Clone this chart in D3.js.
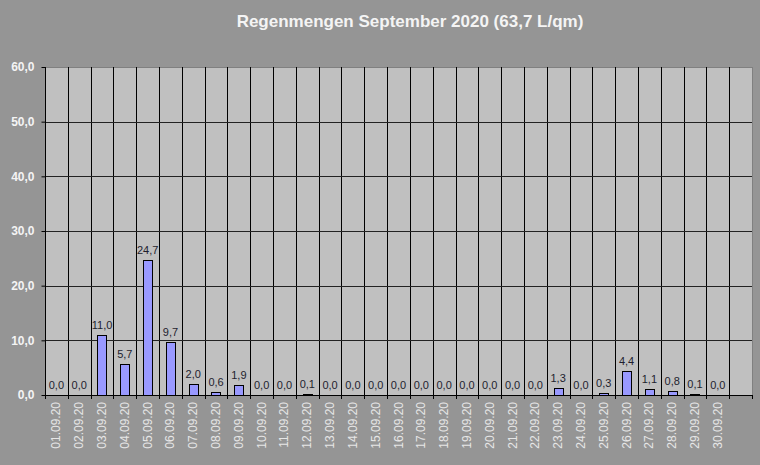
<!DOCTYPE html>
<html><head><meta charset="utf-8">
<script src="https://cdn.jsdelivr.net/npm/d3@7"></script>
<style>body{margin:0;background:#959595}svg{display:block}</style>
</head><body>
<svg id="c" width="760" height="465"></svg>
<script>
const title = "Regenmengen September 2020 (63,7 L/qm)";
const dates = ["01.09.20","02.09.20","03.09.20","04.09.20","05.09.20","06.09.20","07.09.20","08.09.20","09.09.20","10.09.20","11.09.20","12.09.20","13.09.20","14.09.20","15.09.20","16.09.20","17.09.20","18.09.20","19.09.20","20.09.20","21.09.20","22.09.20","23.09.20","24.09.20","25.09.20","26.09.20","27.09.20","28.09.20","29.09.20","30.09.20",""];
const rain = [0,0,11.0,5.7,24.7,9.7,2.0,0.6,1.9,0,0,0.1,0,0,0,0,0,0,0,0,0,0,1.3,0,0.3,4.4,1.1,0.8,0.1,0,null];
const yTicks = [0,10,20,30,40,50,60];

const fmt = v => v.toFixed(1).replace(".", ",");
const svg = d3.select("#c");
const W = 760, H = 465;
svg.append("rect").attr("width", W).attr("height", H).attr("fill", "#959595");
const m = {left: 45, right: 752, top: 67, bottom: 395};

const x = d3.scaleBand().domain(d3.range(dates.length)).range([m.left, m.right]).padding(0);
const y = d3.scaleLinear().domain([0, 60]).range([m.bottom, m.top]);

svg.append("rect").attr("x", m.left).attr("y", m.top).attr("width", m.right - m.left).attr("height", m.bottom - m.top)
  .attr("fill", "#c0c0c0").attr("stroke", "#808080").attr("stroke-width", 1).attr("shape-rendering", "crispEdges");

// vertical grid lines at category boundaries
const bounds = d3.range(dates.length).map(i => x(i));
svg.append("g").selectAll("line").data(bounds.slice(1)).join("line")
  .attr("x1", d => Math.round(d) + 0.5).attr("x2", d => Math.round(d) + 0.5)
  .attr("y1", m.top).attr("y2", m.bottom)
  .attr("stroke", "#000").attr("stroke-width", 1);

// horizontal grid
svg.append("g").selectAll("line").data(yTicks.slice(1, -1)).join("line")
  .attr("x1", m.left).attr("x2", m.right)
  .attr("y1", d => Math.round(y(d)) + 0.5).attr("y2", d => Math.round(y(d)) + 0.5)
  .attr("stroke", "#222").attr("stroke-width", 1);

// bars
const bw = x.bandwidth() * 0.4;
svg.append("g").selectAll("rect").data(rain.map((v, i) => ({v, i})).filter(d => d.v > 0)).join("rect")
  .attr("x", d => Math.round(x(d.i) + (x.bandwidth() - bw) / 2) + 0.5)
  .attr("y", d => Math.round(y(d.v)) + 0.5)
  .attr("width", Math.round(bw))
  .attr("height", d => Math.max(0, Math.round(y(0)) - Math.round(y(d.v))))
  .attr("fill", "#9999ff").attr("stroke", "#000").attr("stroke-width", 1);

// value labels
svg.append("g").selectAll("text").data(rain.map((v, i) => ({v, i})).filter(d => d.v !== null)).join("text")
  .attr("x", d => x(d.i) + x.bandwidth() / 2)
  .attr("y", d => y(d.v) - 6)
  .attr("text-anchor", "middle")
  .attr("font-family", "Liberation Sans, Arial, sans-serif").attr("font-size", 11)
  .attr("fill", "#1e1e2e")
  .text(d => fmt(d.v));

// y axis
const yAxis = svg.append("g").attr("transform", `translate(${m.left + 0.5},0)`)
  .call(d3.axisLeft(y).tickValues(yTicks).tickSize(4).tickPadding(7).tickFormat(fmt));
yAxis.select(".domain").attr("stroke", "#000").attr("d", `M0,${m.top}V${m.bottom}`);
yAxis.selectAll(".tick line").attr("stroke", "#000");
yAxis.selectAll("text").attr("font-family", "Liberation Sans, Arial, sans-serif").attr("font-size", 12)
  .attr("font-weight", "bold").attr("fill", "#f4f4f4");

// x axis baseline + ticks at boundaries
svg.append("line").attr("x1", m.left).attr("x2", m.right).attr("y1", m.bottom + 0.5).attr("y2", m.bottom + 0.5)
  .attr("stroke", "#000");
svg.append("g").selectAll("line").data(bounds.concat([m.right])).join("line")
  .attr("x1", d => Math.round(d) + 0.5).attr("x2", d => Math.round(d) + 0.5)
  .attr("y1", m.bottom).attr("y2", m.bottom + 4).attr("stroke", "#000");

// x labels rotated
svg.append("g").selectAll("text").data(dates.map((d, i) => ({d, i})).filter(d => d.d)).join("text")
  .attr("transform", d => `translate(${x(d.i) + x.bandwidth() / 2 + 4},${m.bottom + 7}) rotate(-90)`)
  .attr("text-anchor", "end")
  .attr("font-family", "Liberation Sans, Arial, sans-serif").attr("font-size", 12)
  .attr("fill", "#e6e6e6")
  .text(d => d.d);

// title
svg.append("text").attr("x", 410).attr("y", 27).attr("text-anchor", "middle")
  .attr("font-family", "Liberation Sans, Arial, sans-serif").attr("font-size", 17).attr("font-weight", "bold")
  .attr("fill", "#f4f4f4").text(title);
</script>
</body></html>
